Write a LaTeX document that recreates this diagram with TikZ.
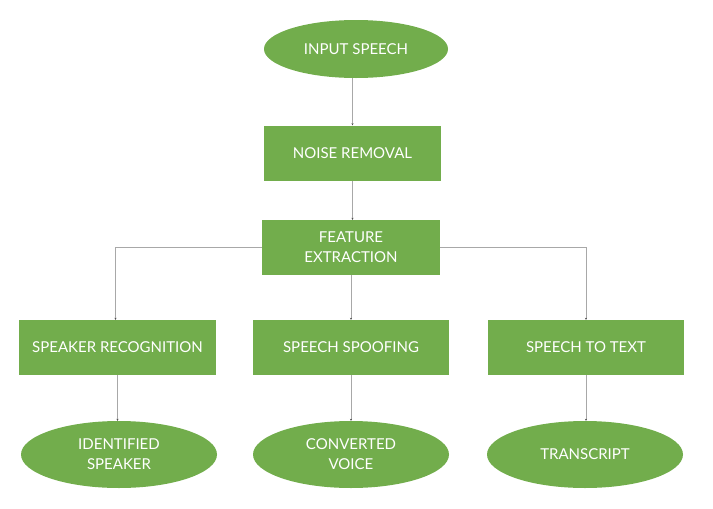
\documentclass[tikz,border=0pt]{standalone}
\usepackage{fontspec}
\setmainfont{Lato}
\usetikzlibrary{shapes.geometric,arrows.meta}
\definecolor{boxgreen}{HTML}{72AD4C}
\definecolor{linegray}{HTML}{A8A8A8}
\tikzset{
  x=1pt,y=-1pt,
  stepbox/.style={draw=none,fill=boxgreen,text=white,minimum width=#1,minimum height=55pt,align=center,inner sep=0pt,font=\fontsize{15}{20}\selectfont},
  stepbox/.default=178pt,
  oval/.style={ellipse,draw=none,fill=boxgreen,text=white,minimum width=196pt,minimum height=67pt,align=center,inner sep=0pt,font=\fontsize{15}{20}\selectfont},
  conn/.style={draw=linegray,line width=0.8pt,-{Stealth[length=2pt,width=2pt,color=black!70]}},
}
\begin{document}
\begin{tikzpicture}
\useasboundingbox (0,0) rectangle (713,509);
\node[oval,minimum width=184pt,minimum height=58pt] (inp) at (356,49) {INPUT SPEECH};
\node[stepbox=177pt] (noise) at (352.5,153) {NOISE REMOVAL};
\node[stepbox=178pt] (feat) at (351,247.5) {FEATURE\\EXTRACTION};
\node[stepbox=197pt] (spk) at (117.5,347.5) {SPEAKER RECOGNITION};
\node[stepbox=196pt] (spoof) at (351,347.5) {SPEECH SPOOFING};
\node[stepbox=196pt] (stt) at (586,347.5) {SPEECH TO TEXT};
\node[oval] (ids) at (119,454.5) {IDENTIFIED\\SPEAKER};
\node[oval] (cv) at (351,454.5) {CONVERTED\\VOICE};
\node[oval] (tr) at (585,454.5) {TRANSCRIPT};
\coordinate (lefttop) at (115.5,347.5);
\draw[conn] (inp.south -| noise.north) -- (noise.north);
\draw[conn] (noise.south) -- (noise.south |- feat.north);
\draw[conn] (feat.west) -| (lefttop |- spk.north);
\draw[conn] (feat) -- (spoof);
\draw[conn] (feat.east) -| (stt.north);
\draw[conn] (spk.south) -- (spk.south |- ids.north);
\draw[conn] (spoof) -- (cv);
\draw[conn] (stt.south) -- (stt.south |- tr.north);
\end{tikzpicture}
\end{document}
